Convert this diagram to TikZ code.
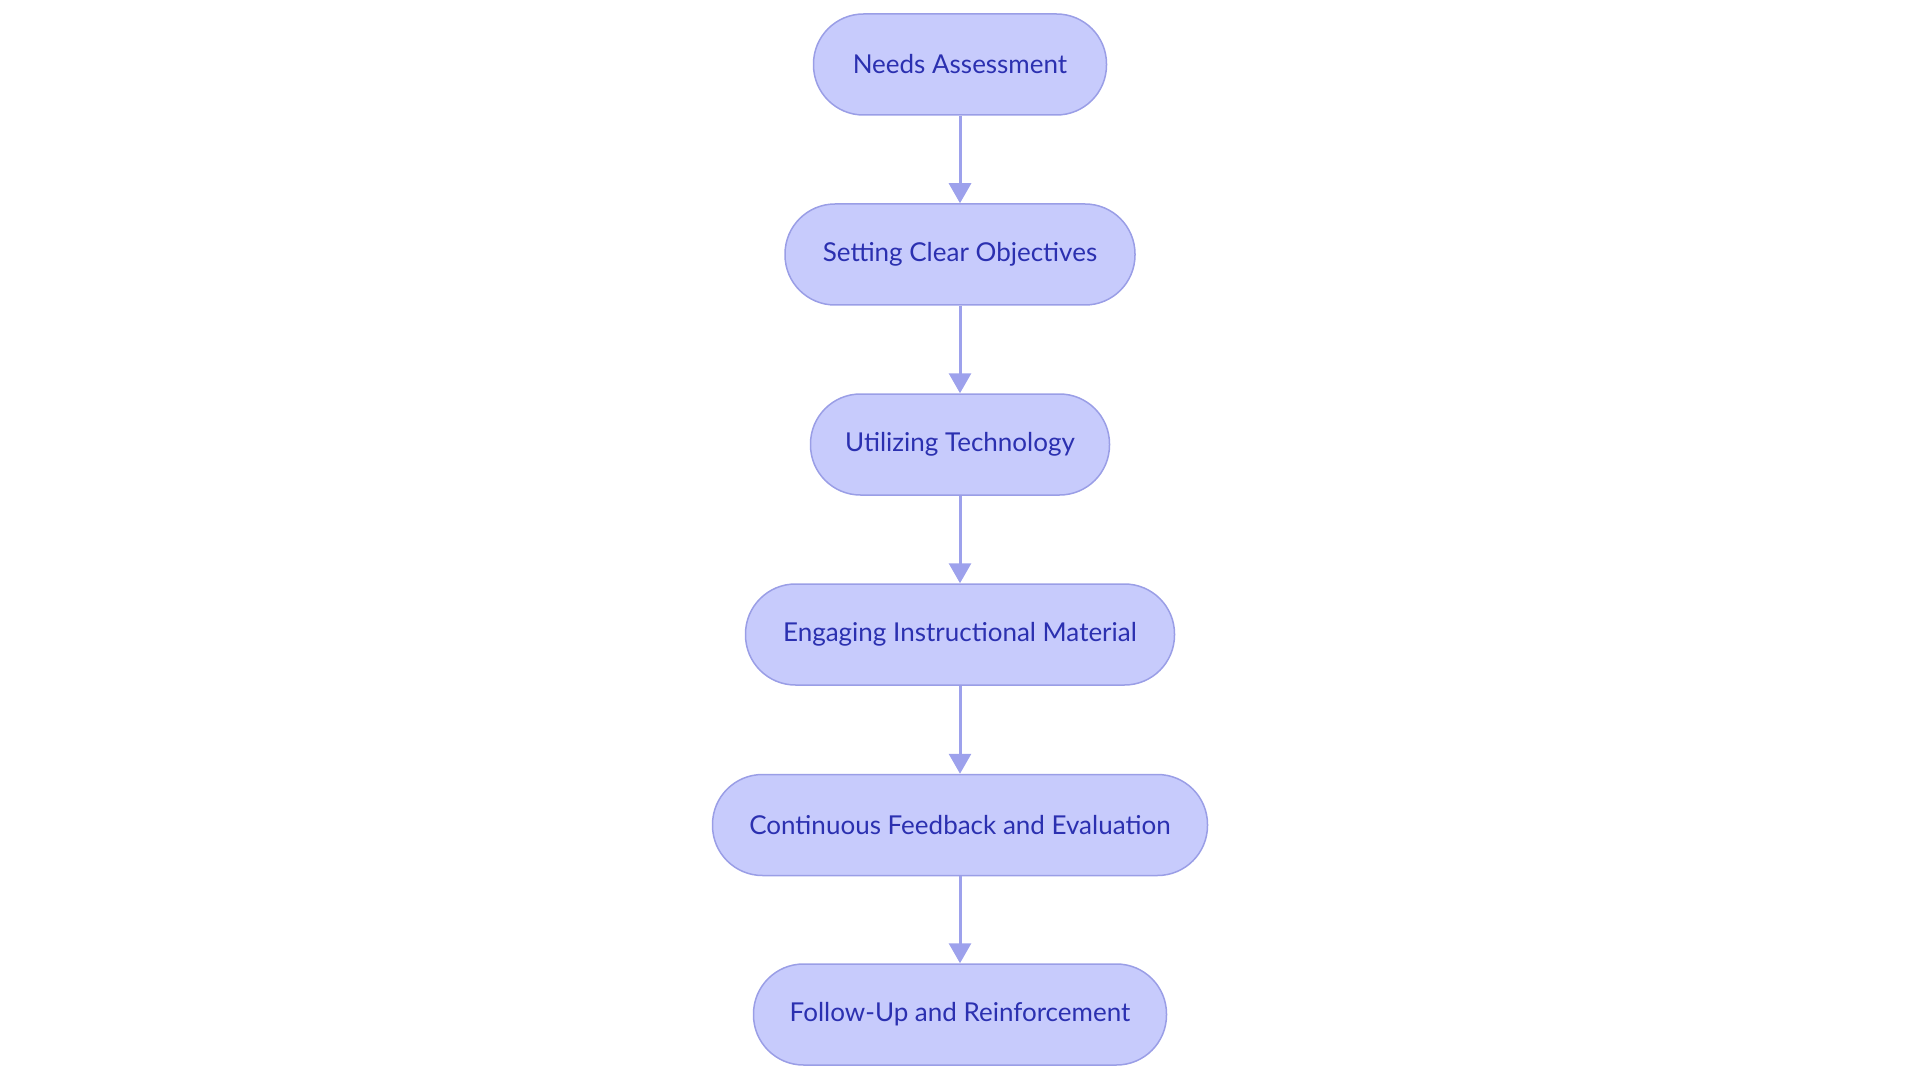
\documentclass[tikz,border=0pt]{standalone}
\usepackage{fontspec}
\setmainfont{Lato}
\usetikzlibrary{arrows.meta}
\definecolor{boxfill}{HTML}{C7CBFC}
\definecolor{boxline}{HTML}{9A9EE6}
\definecolor{txt}{HTML}{2B30B0}
\definecolor{arr}{HTML}{9DA1EC}
\tikzset{
  box/.style={draw=boxline, line width=1.5pt, fill=boxfill, rounded corners=50pt,
    minimum height=101pt, inner sep=0pt, text=txt, font=\fontsize{26}{31}\selectfont},
  flow/.style={draw=arr, line width=3pt, -{Triangle[width=22pt,length=20pt]}}
}
\begin{document}
\begin{tikzpicture}[x=1pt,y=-1pt]
\useasboundingbox (0,0) rectangle (1920,1083);
\node[box, minimum width=293pt] (n1) at (960,64.5) {Needs Assessment};
\node[box, minimum width=350pt] (n2) at (960,254.5) {Setting Clear Objectives};
\node[box, minimum width=299pt] (n3) at (960,444.5) {Utilizing Technology};
\node[box, minimum width=429pt] (n4) at (960,634.5) {Engaging Instructional Material};
\node[box, minimum width=495pt] (n5) at (960,825) {Continuous Feedback and Evaluation};
\node[box, minimum width=413pt] (n6) at (960,1014.5) {Follow-Up and Reinforcement};
\draw[flow] (n1) -- (n2);
\draw[flow] (n2) -- (n3);
\draw[flow] (n3) -- (n4);
\draw[flow] (n4) -- (n5);
\draw[flow] (n5) -- (n6);
\end{tikzpicture}
\end{document}
